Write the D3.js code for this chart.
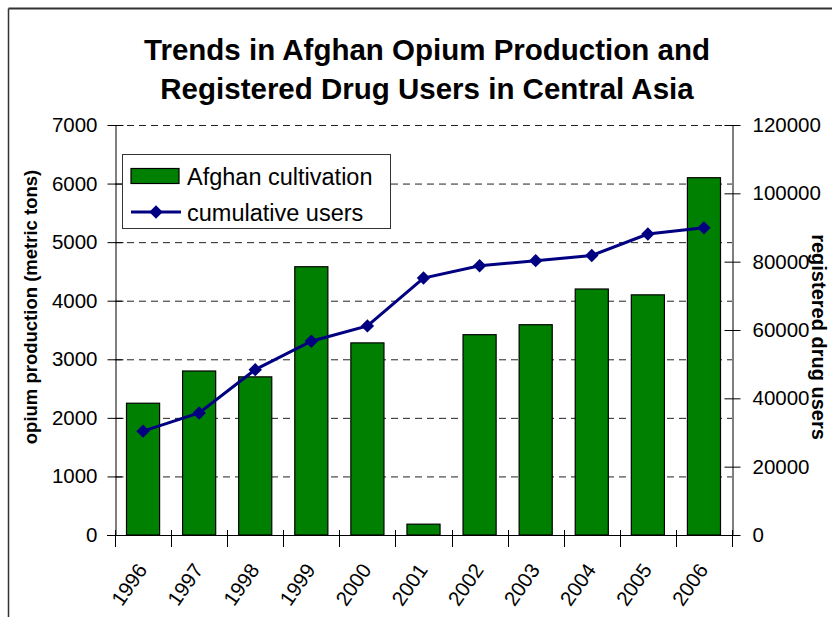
<!DOCTYPE html>
<html>
<head>
<meta charset="utf-8">
<script src="https://cdn.jsdelivr.net/npm/d3@7"></script>
<style>
  html, body { margin: 0; padding: 0; background: #fff; }
  svg { display: block; font-family: "Liberation Sans", Arial, sans-serif; }
</style>
</head>
<body>
<svg id="chart" width="832" height="617"></svg>
<script>
const years = ["1996","1997","1998","1999","2000","2001","2002","2003","2004","2005","2006"];
const production = [2250, 2800, 2700, 4580, 3280, 185, 3420, 3590, 4200, 4100, 6100];
const users = [30400, 35700, 48400, 56700, 61200, 75200, 78800, 80300, 81800, 88100, 89900];
const leftTicks = [0, 1000, 2000, 3000, 4000, 5000, 6000, 7000];
const rightTicks = [0, 20000, 40000, 60000, 80000, 100000, 120000];
const titleLines = ["Trends in Afghan Opium Production and", "Registered Drug Users in Central Asia"];
const seriesNames = ["Afghan cultivation", "cumulative users"];

const svg = d3.select("#chart");
const L = 115, R = 732, T = 125, B = 535;
const fmt = d3.format("d");

// outer frame
svg.append("line").attr("x1", 8.5).attr("x2", 832).attr("y1", 8.5).attr("y2", 8.5)
  .attr("stroke", "#333").attr("stroke-width", 2);
svg.append("line").attr("x1", 8.5).attr("x2", 8.5).attr("y1", 8.5).attr("y2", 617)
  .attr("stroke", "#333").attr("stroke-width", 1.5);

// title
svg.append("g").selectAll("text").data(titleLines).join("text")
  .attr("x", 427).attr("y", (d, i) => 60 + i * 39)
  .attr("text-anchor", "middle").attr("font-weight", "bold").attr("font-size", 29.5)
  .attr("fill", "#000").text(d => d);

const x = d3.scaleBand().domain(years).range([L, R]).paddingInner(0.41).paddingOuter(0.205);
const y = d3.scaleLinear().domain([0, 7000]).range([B, T]);
const y2 = d3.scaleLinear().domain([0, 120000]).range([B, T]);

// gridlines
svg.append("g").selectAll("line").data(leftTicks.filter(d => d > 0)).join("line")
  .attr("x1", L).attr("x2", R).attr("y1", d => y(d) + 0.5).attr("y2", d => y(d) + 0.5)
  .attr("stroke", "#222").attr("stroke-width", 1).attr("stroke-dasharray", "7,5");

// bars
svg.append("g").selectAll("rect").data(years).join("rect")
  .attr("x", d => x(d)).attr("width", x.bandwidth())
  .attr("y", (d, i) => y(production[i])).attr("height", (d, i) => B - y(production[i]))
  .attr("fill", "#008000").attr("stroke", "#000").attr("stroke-width", 1.2);

// left axis
const gl = svg.append("g").attr("transform", `translate(${L + 0.5},0)`)
  .call(d3.axisLeft(y).tickValues(leftTicks).tickFormat(fmt).tickSize(8).tickSizeOuter(0));
gl.select(".domain").attr("stroke", "#000");
gl.selectAll(".tick line").attr("x1", -8).attr("x2", 8).attr("stroke", "#000");
gl.selectAll(".tick text").attr("x", -18).attr("font-size", 20.5)
  .attr("font-family", "Liberation Sans, Arial, sans-serif").attr("fill", "#000");

// right axis
const gr = svg.append("g").attr("transform", `translate(${R + 0.5},0)`)
  .call(d3.axisRight(y2).tickValues(rightTicks).tickFormat(fmt).tickSize(8).tickSizeOuter(0));
gr.select(".domain").attr("stroke", "#000");
gr.selectAll(".tick line").attr("x1", -8).attr("x2", 8).attr("stroke", "#000");
gr.selectAll(".tick text").attr("x", 20).attr("font-size", 20.5)
  .attr("font-family", "Liberation Sans, Arial, sans-serif").attr("fill", "#000");

// bottom axis
const step = x.step();
const boundaries = years.map(d => x(d) - (step - x.bandwidth()) / 2).concat([R]);
svg.append("line").attr("x1", L - 8).attr("x2", R + 8).attr("y1", B + 0.5).attr("y2", B + 0.5)
  .attr("stroke", "#000");
svg.append("g").selectAll("line").data(boundaries).join("line")
  .attr("x1", d => Math.round(d) + 0.5).attr("x2", d => Math.round(d) + 0.5)
  .attr("y1", B - 5).attr("y2", B + 12).attr("stroke", "#000");
const gb = svg.append("g").attr("transform", `translate(0,${B})`)
  .call(d3.axisBottom(x).tickSize(0));
gb.select(".domain").remove();
gb.selectAll(".tick text")
  .attr("font-size", 20.5).attr("font-family", "Liberation Sans, Arial, sans-serif").attr("fill", "#000")
  .attr("text-anchor", "end").attr("dy", 0).attr("y", 0)
  .attr("transform", "translate(5,35) rotate(-55)");

// line series
const cx = d => x(d) + x.bandwidth() / 2;
svg.append("path").datum(years)
  .attr("d", d3.line().x(d => cx(d)).y((d, i) => y2(users[i])))
  .attr("fill", "none").attr("stroke", "#000080").attr("stroke-width", 3);
const diamond = d3.symbol().type(d3.symbolDiamond2).size(115);
svg.append("g").selectAll("path").data(years).join("path")
  .attr("d", diamond)
  .attr("transform", (d, i) => `translate(${cx(d)},${y2(users[i])})`)
  .attr("fill", "#000080");

// axis titles
svg.append("text").attr("transform", "translate(37,307) rotate(-90)")
  .attr("text-anchor", "middle").attr("font-weight", "bold").attr("font-size", 18.5)
  .attr("fill", "#000").text("opium production (metric tons)");
svg.append("text").attr("transform", "translate(812,337) rotate(90)")
  .attr("text-anchor", "middle").attr("font-weight", "bold").attr("font-size", 20)
  .attr("fill", "#000").text("registered drug users");

// legend
const lg = svg.append("g");
lg.append("rect").attr("x", 122.5).attr("y", 154.5).attr("width", 268).attr("height", 74)
  .attr("fill", "#fff").attr("stroke", "#333").attr("stroke-width", 1);
lg.append("rect").attr("x", 131).attr("y", 168.5).attr("width", 48).attr("height", 15)
  .attr("fill", "#008000").attr("stroke", "#000").attr("stroke-width", 1.2);
lg.append("line").attr("x1", 131).attr("x2", 181).attr("y1", 212).attr("y2", 212)
  .attr("stroke", "#000080").attr("stroke-width", 3);
lg.append("path").attr("d", diamond).attr("transform", "translate(156,212)").attr("fill", "#000080");
lg.selectAll("text.lt").data(seriesNames).join("text").attr("class", "lt")
  .attr("x", 187).attr("y", (d, i) => 185 + i * 36)
  .attr("font-size", 23.5).attr("fill", "#000").text(d => d);
</script>
</body>
</html>
